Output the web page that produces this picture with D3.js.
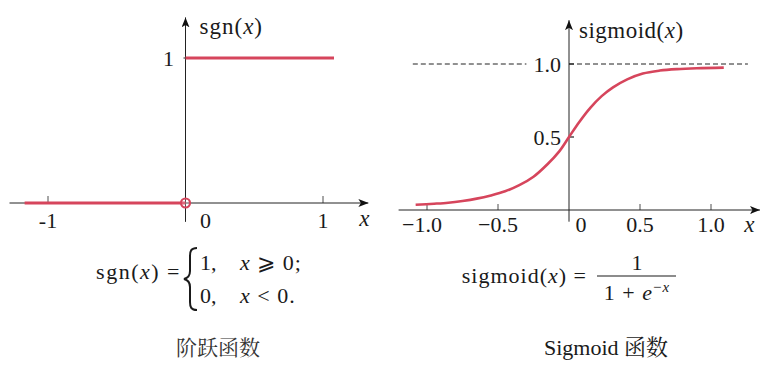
<!DOCTYPE html>
<html><head><meta charset="utf-8">
<script src="https://cdn.jsdelivr.net/npm/d3@7/dist/d3.min.js"></script>
</head>
<body style="margin:0;padding:0;background:#fff;">
<svg id="chart" width="767" height="366" font-family="Liberation Serif, DejaVu Serif, serif" fill="#1a1a1a"></svg>
<script>
// ---- data ----
const sgnTicks = [-1, 0, 1];
const sgnTickLabels = ["-1", "0", "1"];
const sgnYTicks = [1];
const sgnYTickLabels = ["1"];
const sgnLowerX = [-1.17, 0];
const sgnLowerY = [0, 0];
const sgnUpperX = [0, 1.08];
const sgnUpperY = [1, 1];

const sigX = [-1.08, -0.95, -0.85, -0.75, -0.65, -0.55, -0.45, -0.35, -0.25, -0.15, -0.07, 0, 0.07, 0.15, 0.23, 0.31, 0.41, 0.52, 0.64, 0.76, 0.90, 1.09];
const sigY = [0.036, 0.043, 0.050, 0.062, 0.078, 0.100, 0.128, 0.170, 0.228, 0.315, 0.40, 0.50, 0.60, 0.70, 0.78, 0.84, 0.895, 0.935, 0.955, 0.965, 0.971, 0.975];
const sigTicks = [-1, -0.5, 0, 0.5, 1];
const sigTickLabels = ["\u22121.0", "\u22120.5", "0", "0.5", "1.0"];
const sigYTicks = [0.5, 1.0];
const sigYTickLabels = ["0.5", "1.0"];

const RED = "#d6455c";
const CJK = "Noto Serif CJK SC, Noto Sans CJK SC, sans-serif";
const svg = d3.select("#chart");
svg.append("rect").attr("width", 767).attr("height", 366).attr("fill", "#fff");

const defs = svg.append("defs");
defs.append("marker").attr("id", "arr").attr("viewBox", "0 0 10 8")
  .attr("refX", 10).attr("refY", 4).attr("markerWidth", 10).attr("markerHeight", 8)
  .attr("markerUnits", "userSpaceOnUse").attr("orient", "auto")
  .append("path").attr("d", "M0,0 L10,4 L0,8 L2.5,4 Z").attr("fill", "#111");

// ================= LEFT: step function =================
const xL = d3.scaleLinear().domain([-1, 1]).range([48, 323]);
const yL = d3.scaleLinear().domain([0, 1]).range([203, 58]);
const gL = svg.append("g");

gL.append("line").attr("x1", xL(-1.28)).attr("x2", xL(1.33))
  .attr("y1", yL(0)).attr("y2", yL(0)).attr("stroke", "#222").attr("stroke-width", 1)
  .attr("marker-end", "url(#arr)");
gL.append("line").attr("x1", xL(0)).attr("x2", xL(0))
  .attr("y1", yL(-0.13)).attr("y2", yL(1.28)).attr("stroke", "#222").attr("stroke-width", 1)
  .attr("marker-end", "url(#arr)");

gL.selectAll(".xt").data(sgnTicks.filter(d => d !== 0)).join("line")
  .attr("x1", d => xL(d)).attr("x2", d => xL(d))
  .attr("y1", yL(0)).attr("y2", yL(0) - 7).attr("stroke", "#222").attr("stroke-width", 0.8);
gL.selectAll(".xl").data(sgnTicks).join("text")
  .attr("x", (d) => xL(d) + (d === 0 ? 20 : 0)).attr("y", yL(0) + 25)
  .attr("text-anchor", "middle").attr("font-size", 22)
  .text((d, i) => sgnTickLabels[i]);
gL.append("text").attr("x", xL(1.3)).attr("y", yL(0) + 23)
  .attr("font-size", 23).attr("font-style", "italic").attr("text-anchor", "middle").text("x");

gL.selectAll(".yl").data(sgnYTicks).join("text")
  .attr("x", xL(0) - 17).attr("y", d => yL(d) + 8)
  .attr("text-anchor", "middle").attr("font-size", 22)
  .text((d, i) => sgnYTickLabels[i]);
gL.selectAll(".yt").data(sgnYTicks).join("line")
  .attr("x1", xL(0) - 2).attr("x2", xL(0) + 2)
  .attr("y1", d => yL(d)).attr("y2", d => yL(d)).attr("stroke", "#222");

const tL = gL.append("text").attr("x", xL(0) + 14).attr("y", 34).attr("font-size", 23).attr("letter-spacing", 1);
tL.append("tspan").text("sgn(");
tL.append("tspan").attr("font-style", "italic").text("x");
tL.append("tspan").text(")");

const lineL = d3.line().x(d => xL(d[0])).y(d => yL(d[1]));
gL.append("path").datum(sgnLowerX.map((x, i) => [x, sgnLowerY[i]]))
  .attr("d", lineL).attr("fill", "none").attr("stroke", RED).attr("stroke-width", 3.2);
gL.append("path").datum(sgnUpperX.map((x, i) => [x, sgnUpperY[i]]))
  .attr("d", lineL).attr("fill", "none").attr("stroke", RED).attr("stroke-width", 3.2);
gL.append("circle").attr("cx", xL(0)).attr("cy", yL(0)).attr("r", 4.5)
  .attr("fill", "#fff").attr("fill-opacity", 0.2).attr("stroke", RED).attr("stroke-width", 2.2);

// ================= RIGHT: sigmoid =================
const xR = d3.scaleLinear().domain([-1, 1]).range([427, 711]);
const yR = d3.scaleLinear().domain([0, 1]).range([210, 64]);
const gR = svg.append("g");

gR.append("line").attr("x1", xR(-1.1)).attr("x2", xR(-0.3))
  .attr("y1", yR(1)).attr("y2", yR(1)).attr("stroke", "#222").attr("stroke-width", 1)
  .attr("stroke-dasharray", "5,3");
gR.append("line").attr("x1", xR(0)).attr("x2", xR(1.26))
  .attr("y1", yR(1)).attr("y2", yR(1)).attr("stroke", "#222").attr("stroke-width", 1)
  .attr("stroke-dasharray", "5,3");

gR.append("line").attr("x1", xR(-1.2)).attr("x2", xR(1.345))
  .attr("y1", yR(0)).attr("y2", yR(0)).attr("stroke", "#222").attr("stroke-width", 1)
  .attr("marker-end", "url(#arr)");
gR.append("line").attr("x1", xR(0)).attr("x2", xR(0))
  .attr("y1", yR(-0.08)).attr("y2", yR(1.3)).attr("stroke", "#222").attr("stroke-width", 1)
  .attr("marker-end", "url(#arr)");

gR.selectAll(".xt").data(sigTicks.filter(d => d !== 0)).join("line")
  .attr("x1", d => xR(d)).attr("x2", d => xR(d))
  .attr("y1", yR(0)).attr("y2", yR(0) - 6).attr("stroke", "#222").attr("stroke-width", 0.8);
gR.selectAll(".xl").data(sigTicks).join("text")
  .attr("x", d => xR(d) + (d === 0 ? 12 : d === -1 ? -5 : 0)).attr("y", yR(0) + 22)
  .attr("text-anchor", "middle").attr("font-size", 22)
  .text((d, i) => sigTickLabels[i]);
gR.append("text").attr("x", xR(1.27)).attr("y", yR(0) + 22)
  .attr("font-size", 23).attr("font-style", "italic").attr("text-anchor", "middle").text("x");

gR.selectAll(".yt").data(sigYTicks).join("line")
  .attr("x1", xR(0)).attr("x2", xR(0) + 5)
  .attr("y1", d => yR(d)).attr("y2", d => yR(d)).attr("stroke", "#222").attr("stroke-width", 1.2);
gR.selectAll(".yl").data(sigYTicks).join("text")
  .attr("x", xR(0) - 8).attr("y", d => yR(d) + 8)
  .attr("text-anchor", "end").attr("font-size", 22)
  .text((d, i) => sigYTickLabels[i]);

const tR = gR.append("text").attr("x", xR(0) + 10).attr("y", 38).attr("font-size", 23).attr("letter-spacing", 0.5);
tR.append("tspan").text("sigmoid(");
tR.append("tspan").attr("font-style", "italic").text("x");
tR.append("tspan").text(")");

const lineR = d3.line().x(d => xR(d[0])).y(d => yR(d[1])).curve(d3.curveCatmullRom);
gR.append("path").datum(sigX.map((x, i) => [x, sigY[i]]))
  .attr("d", lineR).attr("fill", "none").attr("stroke", RED).attr("stroke-width", 2.6);

// ================= formulas & captions =================
const f1 = svg.append("text").attr("x", 181).attr("y", 279).attr("font-size", 22)
  .attr("text-anchor", "end").attr("letter-spacing", 1.5);
f1.append("tspan").text("sgn(");
f1.append("tspan").attr("font-style", "italic").text("x");
f1.append("tspan").text(") =");
svg.append("path")
  .attr("d", "M197,248 C191,248 190,251 190,256 L190,271 C190,275 188,278 184,279 C188,280 190,283 190,287 L190,302 C190,307 191,310 197,310")
  .attr("fill", "none").attr("stroke", "#1a1a1a").attr("stroke-width", 2);
svg.append("text").attr("x", 200).attr("y", 270).attr("font-size", 22).text("1,");
svg.append("text").attr("x", 200).attr("y", 303).attr("font-size", 22).text("0,");
const r1 = svg.append("text").attr("x", 240).attr("y", 270).attr("font-size", 22).attr("letter-spacing", 1);
r1.append("tspan").attr("font-style", "italic").text("x");
r1.append("tspan").text(" \u2A7E 0;");
const r2 = svg.append("text").attr("x", 240).attr("y", 303).attr("font-size", 22).attr("letter-spacing", 1);
r2.append("tspan").attr("font-style", "italic").text("x");
r2.append("tspan").text(" < 0.");

svg.append("text").attr("font-family", CJK).attr("fill", "#333").attr("x", 218).attr("y", 355)
  .attr("text-anchor", "middle").attr("font-size", 21).text("阶跃函数");

const f2 = svg.append("text").attr("x", 587).attr("y", 283).attr("font-size", 22)
  .attr("text-anchor", "end").attr("letter-spacing", 1);
f2.append("tspan").text("sigmoid(");
f2.append("tspan").attr("font-style", "italic").text("x");
f2.append("tspan").text(") =");
svg.append("text").attr("x", 637).attr("y", 270).attr("text-anchor", "middle").attr("font-size", 22).text("1");
svg.append("line").attr("x1", 597).attr("x2", 676).attr("y1", 276).attr("y2", 276)
  .attr("stroke", "#1a1a1a").attr("stroke-width", 1.2);
const den = svg.append("text").attr("x", 637).attr("y", 300).attr("font-size", 22)
  .attr("text-anchor", "middle").attr("letter-spacing", 1);
den.append("tspan").text("1 + ");
den.append("tspan").attr("font-style", "italic").text("e");
den.append("tspan").attr("font-size", 15).attr("dy", -8).text("\u2212");
den.append("tspan").attr("font-size", 15).attr("font-style", "italic").text("x");

const c2 = svg.append("text").attr("x", 606).attr("y", 355).attr("text-anchor", "middle").attr("font-size", 22);
c2.append("tspan").text("Sigmoid ");
c2.append("tspan").attr("font-family", CJK).text("函数");
</script>
</body></html>
